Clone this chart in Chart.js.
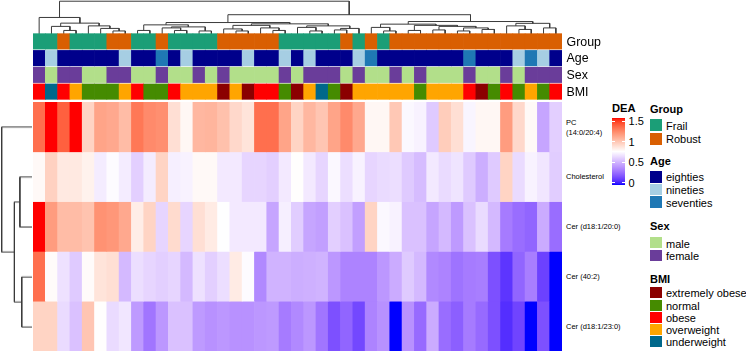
<!DOCTYPE html>
<html>
<head>
<meta charset="utf-8">
<script src="https://cdn.jsdelivr.net/npm/chart.js@4.4.1/dist/chart.umd.min.js"></script>
<style>
  html, body { margin: 0; padding: 0; background: #fff; }
  #wrap { position: relative; width: 746px; height: 352px; overflow: hidden;
          font-family: "Liberation Sans", Arial, sans-serif; color: #000; }
  #wrap canvas { position: absolute; }
  .lbl { position: absolute; white-space: nowrap; line-height: 1; transform: translateY(-50%); }
  .box { position: absolute; }
</style>
</head>
<body>
<div id="wrap"></div>
<script>
// ---- data ----
const rowNames = [["PC", "(14:0/20:4)"], "Cholesterol", "Cer (d18:1/20:0)", "Cer (40:2)", "Cer (d18:1/23:0)"];

// DEA values per lipid, columns in dendrogram order (43 samples)
const pcVals = [1.35, 1.58, 1.4, 1.58, 0.95, 1.15, 1.13, 1.05, 1.32, 1.25, 1.23, 0.9, 0.8, 1.07,
  1.08, 1.03, 0.93, 0.88, 1.35, 1.35, 1.15, 0.95, 1.07, 1.01, 1.15, 1.25, 1.13, 0.8,
  0.8, 1.0, 0.74, 0.72, 0.58, 0.98, 0.9, 0.73, 0.8, 0.8, 1.18, 0.93, 0.79, 0.45, 0.6];
const cholVals = [0.79, 0.96, 0.86, 0.86, 0.82, 0.7, 0.75, 0.7, 0.6, 0.7, 0.95, 0.71, 0.72, 0.79,
  0.79, 0.69, 0.69, 0.62, 0.62, 0.6, 0.69, 0.77, 0.69, 0.62, 0.74, 0.65, 0.72, 0.62,
  0.64, 0.65, 0.58, 0.53, 0.69, 0.64, 0.67, 0.58, 0.48, 0.58, 0.95, 0.64, 0.72, 0.68, 0.59];
const cer20Vals = [1.58, 1.18, 1.05, 1.05, 1.02, 1.22, 1.2, 1.13, 0.84, 0.95, 0.62, 0.92, 0.62, 0.9,
  0.85, 0.76, 0.69, 0.69, 0.69, 0.45, 0.71, 0.59, 0.45, 0.43, 0.6, 0.55, 0.43, 0.95,
  0.74, 0.72, 0.55, 0.55, 0.45, 0.52, 0.41, 0.55, 0.64, 0.52, 0.3, 0.25, 0.22, 0.47, 0.25];
const cer40Vals = [1.35, 0.78, 0.66, 0.58, 0.78, 0.88, 0.9, 0.52, 0.65, 0.62, 0.6, 0.62, 0.52, 0.66,
  0.6, 0.65, 0.85, 0.75, 0.35, 0.5, 0.5, 0.48, 0.49, 0.5, 0.4, 0.33, 0.33, 0.33,
  0.4, 0.47, 0.58, 0.52, 0.35, 0.33, 0.27, 0.3, 0.31, 0.15, 0.06, 0.22, 0.31, 0.1, -0.05];
const cer23Vals = [0.95, 0.95, 0.64, 0.55, 1.01, 0.77, 0.64, 0.68, 0.41, 0.28, 0.4, 0.55, 0.55, 0.41,
  0.38, 0.4, 0.38, 0.38, 0.4, 0.41, 0.3, 0.35, 0.4, 0.28, 0.15, 0.22, 0.12, 0.33,
  0.38, -0.05, 0.38, 0.24, 0.47, 0.25, 0.2, 0.3, 0.24, 0.15, 0.04, 0.11, -0.05, 0.15, -0.05];

// annotations (F=Frail R=Robust; E/N/S = eighties/nineties/seventies; M/F = male/female)
const groupVals = "FFRFFFRRFFRFFFFRRRRRFFFFFRFRFRRRRRRRRRRRRRR".split("");
const ageVals   = "ENEEEEENEESENEEEENEENENEEENSEEEEEEESEEENSNE".split("");
const sexVals   = "FMFFMMFFMMFMMFMFMMMMFMFFFMFMMFMFMMMFMMFMFFF".split("");
const bmiVals = ["obese", "underweight", "obese", "overweight", "normal", "normal", "normal", "overweight",
  "obese", "normal", "normal", "obese", "overweight", "overweight", "overweight", "extremely obese",
  "overweight", "extremely obese", "obese", "obese", "normal", "extremely obese", "overweight", "underweight",
  "normal", "extremely obese", "overweight", "overweight", "overweight", "overweight", "overweight", "normal",
  "overweight", "overweight", "overweight", "obese", "extremely obese", "normal", "obese", "normal",
  "overweight", "normal", "obese"];

// column dendrogram merges (node id = 43 + merge index)
const colMergeA = [2, 1, 6, 5, 4, 44, 0, 8, 11, 10, 13, 52, 50, 16, 15, 19, 18, 57, 22, 21, 24, 63, 62, 60, 55,
  28, 27, 30, 32, 34, 36, 72, 71, 70, 69, 39, 38, 41, 79, 77, 67, 49];
const colMergeB = [3, 43, 7, 45, 46, 47, 48, 9, 12, 51, 14, 53, 54, 17, 56, 20, 58, 59, 23, 61, 25, 26, 64, 65, 66,
  29, 68, 31, 33, 35, 37, 73, 74, 75, 76, 40, 78, 42, 80, 81, 82, 83];
const colMergeH = [3.5, 7.5, 3, 5.5, 8, 10.7, 16.3, 3.5, 3.5, 6, 3, 7, 9, 3, 5, 3.5, 6, 8.5, 3, 6.5, 4, 5.5, 8, 10, 11.3,
  3, 6.5, 3.5, 4, 3, 4.5, 6, 7.5, 8.5, 9.7, 4.5, 8, 6, 10.5, 12.3, 19, 32.3];

// row dendrogram merges (node id = 5 + merge index)
const rowMergeA = [1, 3, 5, 0];
const rowMergeB = [2, 4, 6, 7];
const rowMergeH = [12.3, 10.4, 17.9, 30.8];

// legends
const groupNames = ["Frail", "Robust"];
const groupColors = ["#1B9E77", "#D95F02"];
const ageNames = ["eighties", "nineties", "seventies"];
const ageColors = ["#00008B", "#A6CEE3", "#1F78B4"];
const sexNames = ["male", "female"];
const sexColors = ["#B2DF8A", "#6A3D9A"];
const bmiNames = ["extremely obese", "normal", "obese", "overweight", "underweight"];
const bmiColors = ["#8B0000", "#458B00", "#FF0000", "#FFA500", "#00688B"];
const deaTicks = [0, 0.5, 1, 1.5];
const deaBreaks = [-0.05, 0.765, 1.58];

// ---- colour ramp (blue - white - red, LAB interpolation) ----
function hexToRgb(h) { return [1, 3, 5].map(i => parseInt(h.slice(i, i + 2), 16) / 255); }
function toLab(hex) {
  const lin = hexToRgb(hex).map(c => c <= 0.04045 ? c / 12.92 : Math.pow((c + 0.055) / 1.055, 2.4));
  const X = (0.4124564 * lin[0] + 0.3575761 * lin[1] + 0.1804375 * lin[2]) / 0.95047;
  const Y = 0.2126729 * lin[0] + 0.7151522 * lin[1] + 0.0721750 * lin[2];
  const Z = (0.0193339 * lin[0] + 0.1191920 * lin[1] + 0.9503041 * lin[2]) / 1.08883;
  const f = t => t > 0.008856 ? Math.cbrt(t) : 7.787 * t + 16 / 116;
  return [116 * f(Y) - 16, 500 * (f(X) - f(Y)), 200 * (f(Y) - f(Z))];
}
function fromLab(L, a, b) {
  const fy = (L + 16) / 116, fx = fy + a / 500, fz = fy - b / 200;
  const inv = t => t * t * t > 0.008856 ? t * t * t : (t - 16 / 116) / 7.787;
  const X = inv(fx) * 0.95047, Y = inv(fy), Z = inv(fz) * 1.08883;
  const lin = [
    3.2404542 * X - 1.5371385 * Y - 0.4985314 * Z,
    -0.9692660 * X + 1.8760108 * Y + 0.0415560 * Z,
    0.0556434 * X - 0.2040259 * Y + 1.0572252 * Z,
  ];
  const g = lin.map(c => {
    c = c <= 0.0031308 ? 12.92 * c : 1.055 * Math.pow(c, 1 / 2.4) - 0.055;
    return Math.round(Math.min(1, Math.max(0, c)) * 255);
  });
  return `rgb(${g[0]},${g[1]},${g[2]})`;
}
const labStops = ["#0000FF", "#FFFFFF", "#FF0000"].map(toLab);
function deaColor(v) {
  v = Math.min(deaBreaks[2], Math.max(deaBreaks[0], v));
  const i = v <= deaBreaks[1] ? 0 : 1;
  const t = (v - deaBreaks[i]) / (deaBreaks[i + 1] - deaBreaks[i]);
  const p = labStops[i], q = labStops[i + 1];
  return fromLab(p[0] + (q[0] - p[0]) * t, p[1] + (q[1] - p[1]) * t, p[2] + (q[2] - p[2]) * t);
}

// ---- helpers ----
const wrap = document.getElementById("wrap");
const nCols = pcVals.length;
const colLabels = pcVals.map((_, i) => String(i));

function makeCanvas(left, top, w, h) {
  const c = document.createElement("canvas");
  c.width = w; c.height = h;
  c.style.left = left + "px"; c.style.top = top + "px";
  c.style.width = w + "px"; c.style.height = h + "px";
  wrap.appendChild(c);
  return c;
}
function addText(txt, left, top, size, bold) {
  const d = document.createElement("div");
  d.className = "lbl";
  d.textContent = txt;
  d.style.left = left + "px"; d.style.top = top + "px";
  d.style.fontSize = size + "px";
  if (bold) d.style.fontWeight = "bold";
  wrap.appendChild(d);
}
function addBox(left, top, w, h, color) {
  const d = document.createElement("div");
  d.className = "box";
  Object.assign(d.style, { left: left + "px", top: top + "px", width: w + "px", height: h + "px", background: color });
  wrap.appendChild(d);
  return d;
}
const baseOpts = {
  responsive: false, animation: false, devicePixelRatio: 1,
  layout: { padding: 0 },
  plugins: { legend: { display: false }, tooltip: { enabled: false } },
};

function dendroPaths(nLeaves, A, B, H) {
  const pos = [], hgt = [], paths = [];
  for (let i = 0; i < nLeaves; i++) { pos.push(i + 0.5); hgt.push(0); }
  for (let m = 0; m < A.length; m++) {
    const a = A[m], b = B[m], h = H[m];
    paths.push([[pos[a], hgt[a]], [pos[a], h], [pos[b], h], [pos[b], hgt[b]]]);
    pos.push((pos[a] + pos[b]) / 2); hgt.push(h);
  }
  return paths;
}
const dendroLine = { borderColor: "#3a3a3a", borderWidth: 1, pointRadius: 0, fill: false, tension: 0 };

// ---- layout ----
const HX = 33, HW = 529;          // heatmap left / width
const HT = 102.3, HH = 249.4;     // heatmap top / height
const AT = 33.3, AH = 67;         // annotation block top / height

// column dendrogram
new Chart(makeCanvas(HX, 0, HW, 34), {
  type: "line",
  data: {
    datasets: dendroPaths(nCols, colMergeA, colMergeB, colMergeH).map(p => ({
      ...dendroLine, data: p.map(q => ({ x: q[0], y: q[1] })),
    })),
  },
  options: {
    ...baseOpts,
    scales: {
      x: { type: "linear", display: false, min: 0, max: nCols },
      y: { type: "linear", display: false, min: 0, max: 33.5 },
    },
  },
});

// row dendrogram
new Chart(makeCanvas(0, HT, 32, HH), {
  type: "line",
  data: {
    datasets: dendroPaths(rowNames.length, rowMergeA, rowMergeB, rowMergeH).map(p => ({
      ...dendroLine, data: p.map(q => ({ x: q[1], y: q[0] })),
    })),
  },
  options: {
    ...baseOpts,
    scales: {
      x: { type: "linear", display: false, min: 0, max: 32.5, reverse: true },
      y: { type: "linear", display: false, min: 0, max: rowNames.length, reverse: true },
    },
  },
});

// annotation tracks
const tracks = [
  { name: "Group", vals: groupVals, col: v => groupColors[v === "F" ? 0 : 1] },
  { name: "Age", vals: ageVals, col: v => ageColors["ENS".indexOf(v)] },
  { name: "Sex", vals: sexVals, col: v => sexColors[v === "M" ? 0 : 1] },
  { name: "BMI", vals: bmiVals, col: v => bmiColors[bmiNames.indexOf(v)] },
];
new Chart(makeCanvas(HX, AT, HW, AH), {
  type: "bar",
  data: {
    labels: colLabels,
    datasets: tracks.map((t, r) => ({
      data: t.vals.map(() => [r + 0.04, r + 0.96]),
      backgroundColor: t.vals.map(t.col),
      borderWidth: 0, grouped: false, barPercentage: 1, categoryPercentage: 1,
    })),
  },
  options: {
    ...baseOpts,
    scales: {
      x: { display: false },
      y: { type: "linear", display: false, min: 0, max: tracks.length, reverse: true },
    },
  },
});
tracks.forEach((t, r) => addText(t.name, HX + HW + 4.5, AT + (r + 0.5) * AH / tracks.length, 12.4));

// heatmap
const heatRows = [pcVals, cholVals, cer20Vals, cer40Vals, cer23Vals];
new Chart(makeCanvas(HX, HT, HW, Math.round(HH)), {
  type: "bar",
  data: {
    labels: colLabels,
    datasets: heatRows.map((vals, r) => ({
      data: vals.map(() => [r, r + 1]),
      backgroundColor: vals.map(deaColor),
      borderWidth: 0, grouped: false, barPercentage: 1, categoryPercentage: 1,
    })),
  },
  options: {
    ...baseOpts,
    scales: {
      x: { display: false },
      y: { type: "linear", display: false, min: 0, max: heatRows.length, reverse: true },
    },
  },
});
rowNames.forEach((n, r) => {
  const cy = HT + (r + 0.5) * HH / rowNames.length;
  if (Array.isArray(n)) {
    addText(n[0], HX + HW + 4, cy - 4.3, 7.5);
    addText(n[1], HX + HW + 4, cy + 5.8, 7.5);
  } else {
    addText(n, HX + HW + 4, cy, 7.5);
  }
});

// ---- legends ----
// DEA colour bar
const barTop = 117.7, barH = 67.3, barX = 612, barW = 12.6;
const span = deaBreaks[2] - deaBreaks[0];
const stops = [];
for (let i = 0; i <= 40; i++) {
  const v = deaBreaks[0] + span * i / 40;
  stops.push(`${deaColor(v)} ${(i / 40 * 100).toFixed(1)}%`);
}
addText("DEA", barX, 109, 11.2, true);
addBox(barX, barTop, barW, barH, `linear-gradient(to top, ${stops.join(",")})`);
deaTicks.forEach(v => {
  const y = barTop + barH * (deaBreaks[2] - v) / span;
  addBox(barX, y - 0.5, 2.5, 1, "#fff");
  addBox(barX + barW - 2.5, y - 0.5, 2.5, 1, "#fff");
  addText(String(v), barX + barW + 4, y, 11);
});

const legends = [
  { title: "Group", names: groupNames, colors: groupColors, titleY: 109, top: 119, pitch: 13.6 },
  { title: "Age", names: ageNames, colors: ageColors, titleY: 161, top: 171, pitch: 12.7 },
  { title: "Sex", names: sexNames, colors: sexColors, titleY: 225.7, top: 237.3, pitch: 12.4 },
  { title: "BMI", names: bmiNames, colors: bmiColors, titleY: 279.3, top: 287.3, pitch: 12.2 },
];
legends.forEach(L => {
  addText(L.title, 650, L.titleY, 11, true);
  L.names.forEach((n, i) => {
    const y = L.top + i * L.pitch;
    addBox(650, y, 11.7, L.pitch - 1.2, L.colors[i]);
    addText(n, 666, y + L.pitch / 2, 11);
  });
});
</script>
</body>
</html>
